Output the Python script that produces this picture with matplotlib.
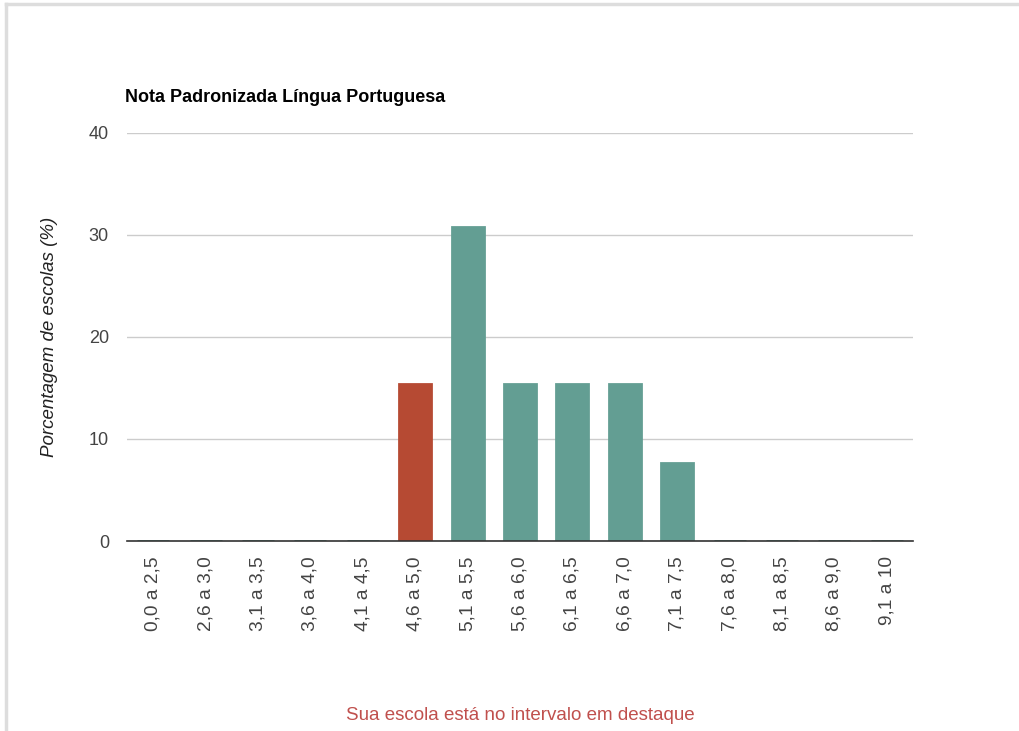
import numpy as np
import matplotlib.pyplot as plt
from matplotlib.lines import Line2D

plt.rcParams['font.family'] = ['Liberation Sans', 'DejaVu Sans']

faixas = ['0,0 a 2,5', '2,6 a 3,0', '3,1 a 3,5', '3,6 a 4,0', '4,1 a 4,5',
          '4,6 a 5,0', '5,1 a 5,5', '5,6 a 6,0', '6,1 a 6,5', '6,6 a 7,0',
          '7,1 a 7,5', '7,6 a 8,0', '8,1 a 8,5', '8,6 a 9,0', '9,1 a 10']
porcentagem = [0, 0, 0, 0, 0, 15.38, 30.77, 15.38, 15.38, 15.38, 7.69, 0, 0, 0, 0]
destaque = '4,6 a 5,0'
y_ticks = [0, 10, 20, 30, 40]

cor_normal = '#639e93'
cor_destaque = '#b64a33'

fig = plt.figure(figsize=(10.19, 7.31), dpi=100)
ax = fig.add_axes([127 / 1019, 1 - 541 / 731, 786 / 1019, 408 / 731])

x = np.arange(len(faixas))
cores = [cor_destaque if f == destaque else cor_normal for f in faixas]
ax.bar(x, porcentagem, width=0.61, color=cores, edgecolor=cores, linewidth=2, zorder=3)

ax.set_xlim(-0.5, len(faixas) - 0.5)
ax.set_ylim(0, 40)
ax.set_yticks(y_ticks)
ax.set_xticks(x)
ax.set_xticklabels(faixas, rotation=90, fontsize=13.8, color='#444444')
ax.tick_params(axis='y', length=0, pad=13, labelsize=13, labelcolor='#444444')
ax.tick_params(axis='x', length=0, pad=11)
ax.grid(axis='y', color='#cccccc', linewidth=1, zorder=0)
for s in ['top', 'right', 'left']:
    ax.spines[s].set_visible(False)
ax.spines['bottom'].set_color('#333333')
ax.spines['bottom'].set_linewidth(1.2)
ax.spines['bottom'].set_zorder(4)

ax.set_ylabel('Porcentagem de escolas (%)', fontsize=13.5, style='italic',
              color='#222222', labelpad=22)

fig.text(125 / 1019, 1 - 98 / 731, 'Nota Padronizada Língua Portuguesa',
         fontsize=13, fontweight='bold', color='black', va='center', ha='left')
fig.text(520 / 1019, 1 - 716 / 731, 'Sua escola está no intervalo em destaque',
         fontsize=13.5, color='#c0504d', ha='center', va='center')

# moldura cinza no topo e à esquerda
fig.add_artist(Line2D([6 / 1019, 1], [1 - 4 / 731, 1 - 4 / 731], color='#dddddd', linewidth=2.5,
                      transform=fig.transFigure))
fig.add_artist(Line2D([6 / 1019, 6 / 1019], [0, 1 - 4 / 731], color='#dddddd', linewidth=2.5,
                      transform=fig.transFigure))

fig.savefig('out.png', dpi=100)
